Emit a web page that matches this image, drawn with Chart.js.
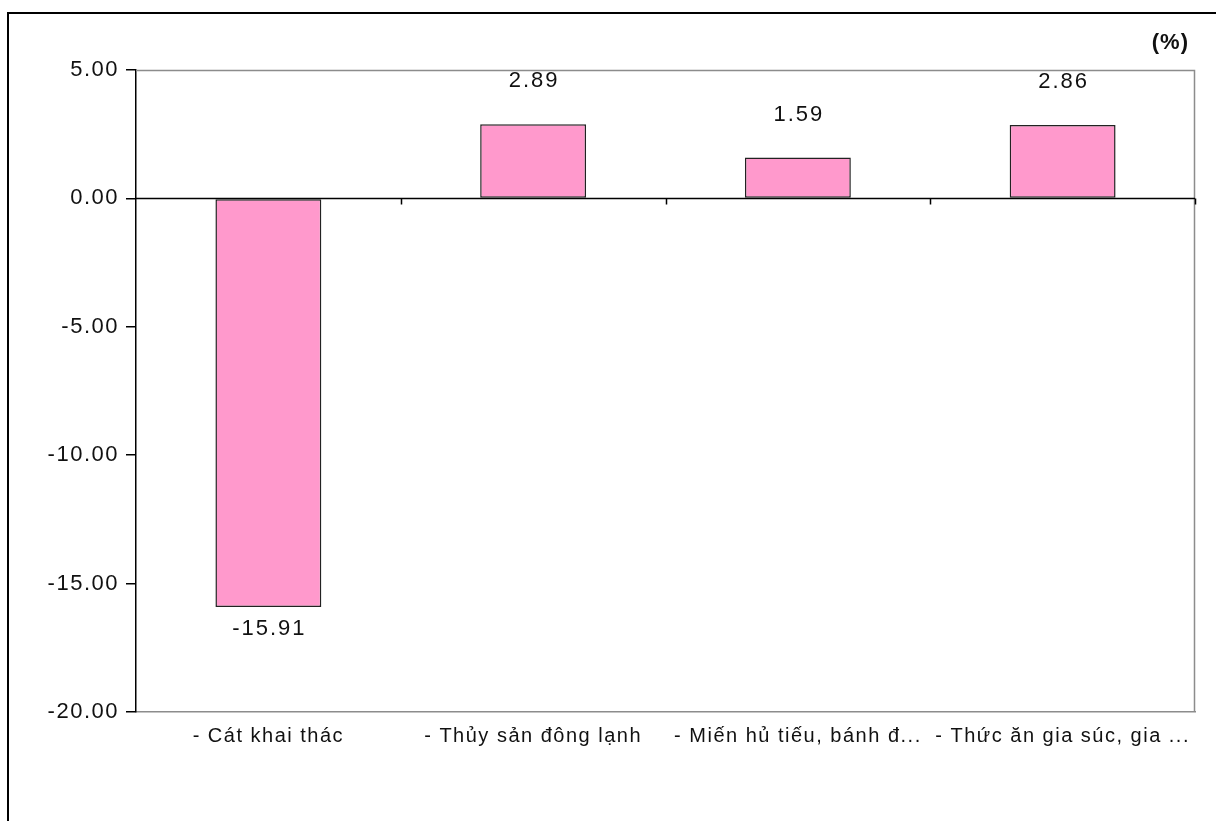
<!DOCTYPE html>
<html>
<head>
<meta charset="utf-8">
<script src="https://cdn.jsdelivr.net/npm/chart.js@4.4.1/dist/chart.umd.min.js"></script>
<style>
    html, body { margin: 0; padding: 0; background: #fff; overflow: hidden; }
    #wrap { position: relative; width: 1216px; height: 821px; }
    #frame
    {
        position: absolute; left: 7px; top: 12px; width: 1400px; height: 1000px;
        border-left: 2px solid #000; border-top: 2px solid #000;
    }
    canvas { position: absolute; left: 0; top: 0; }
</style>
</head>
<body>
<div id="wrap">
    <div id="frame"></div>
    <canvas id="myChart" width="1216" height="821"></canvas>
</div>
<script>
const categories = [
    '- Cát khai thác',
    '- Thủy sản đông lạnh',
    '- Miến hủ tiếu, bánh đ...',
    '- Thức ăn gia súc, gia ...'
];
const values = [-15.91, 2.89, 1.59, 2.86];
const yTicks = [5, 0, -5, -10, -15, -20];
const unitLabel = '(%)';

const fontName = '"Liberation Sans", Arial, sans-serif';

// khung vùng vẽ, trục 0 và nhãn giá trị
const excelLook =
{
    id: 'excelLook',
    beforeDraw(chart)
    {
        chart.ctx.letterSpacing = '1.5px';
    },
    afterDatasetsDraw(chart)
    {
        const ctx = chart.ctx;
        const area = chart.chartArea;
        const x = chart.scales.x;
        const y = chart.scales.y;
        const y0 = Math.round(y.getPixelForValue(0)) + 0.5;
        const step = x.getPixelForValue(1) - x.getPixelForValue(0);

        ctx.save();
        // khung xám
        ctx.strokeStyle = '#8c8c8c';
        ctx.lineWidth = 1.5;
        ctx.beginPath();
        ctx.moveTo(area.left, area.top + 0.5);
        ctx.lineTo(area.right - 0.5, area.top + 0.5);
        ctx.lineTo(area.right - 0.5, area.bottom - 0.5);
        ctx.stroke();

        // trục hoành tại 0
        ctx.strokeStyle = '#000';
        ctx.lineWidth = 1.5;
        ctx.beginPath();
        ctx.moveTo(area.left, y0);
        ctx.lineTo(area.right, y0);
        for (let i = 0; i < categories.length; i++)
        {
            const px = Math.round(x.getPixelForValue(i) + step / 2) + 0.5;
            ctx.moveTo(px, y0);
            ctx.lineTo(px, y0 + 6);
        }
        ctx.stroke();

        // nhãn giá trị
        ctx.fillStyle = '#111';
        ctx.font = '22px ' + fontName;
        ctx.letterSpacing = '2px';
        ctx.textAlign = 'center';
        ctx.textBaseline = 'middle';
        const meta = chart.getDatasetMeta(0);
        meta.data.forEach((bar, i) =>
        {
            const v = values[i];
            const ly = v >= 0 ? bar.y - 43 : bar.y + 22;
            ctx.fillText(v.toFixed(2), bar.x + 1, ly);
        });

        // đơn vị
        ctx.font = 'bold 22px ' + fontName;
        ctx.letterSpacing = '1px';
        ctx.textAlign = 'right';
        ctx.fillText(unitLabel, 1189, 43);
        ctx.restore();
    }
};

const ctx = document.getElementById('myChart');

new Chart(ctx,
{
    type: 'bar',
    data:
    {
        labels: categories,
        datasets:
        [
            {
                label: '%',
                data: values,
                backgroundColor: '#ff99cc',
                borderColor: '#222',
                borderWidth: 1.5,
                borderSkipped: false,
                barPercentage: 0.4,
                categoryPercentage: 1
            }
        ]
    },
    options:
    {
        responsive: false,
        animation: false,
        layout: { padding: { left: 0, top: 70, right: 21, bottom: 0 } },
        plugins:
        {
            legend: { display: false },
            tooltip: { enabled: false }
        },
        scales:
        {
            x:
            {
                grid: { display: false, drawTicks: false },
                border: { display: true, color: '#8c8c8c', width: 1.5 },
                ticks:
                {
                    autoSkip: false,
                    maxRotation: 0,
                    padding: 12,
                    color: '#111',
                    font: { family: fontName, size: 20 }
                },
                afterFit(scale) { scale.height = 109; }
            },
            y:
            {
                min: -20,
                max: 5,
                afterBuildTicks(scale)
                {
                    scale.ticks = yTicks.map((v) => ({ value: v }));
                },
                grid: { drawOnChartArea: false, drawTicks: true, tickLength: 10, tickColor: '#000', lineWidth: 1.5 },
                border: { display: true, color: '#000', width: 1.5 },
                ticks:
                {
                    padding: 7,
                    color: '#111',
                    font: { family: fontName, size: 22 },
                    callback: (v) => Number(v).toFixed(2)
                },
                afterFit(scale) { scale.width = 136; }
            }
        }
    },
    plugins: [excelLook]
});
</script>
</body>
</html>
